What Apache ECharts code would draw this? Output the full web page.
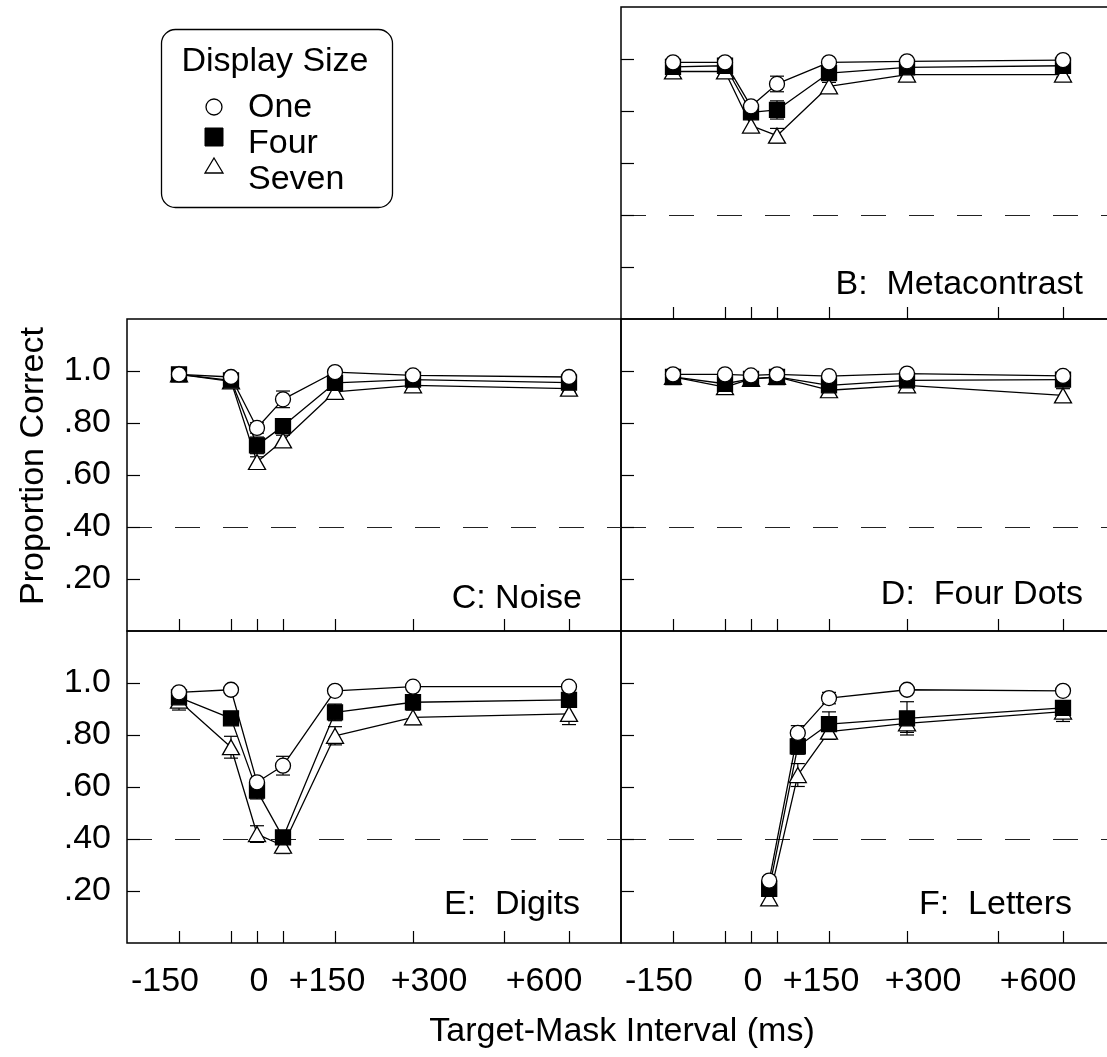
<!DOCTYPE html>
<html><head><meta charset="utf-8">
<script src="https://cdn.jsdelivr.net/npm/echarts@6/dist/echarts.min.js"></script>
<style>html,body{margin:0;padding:0;background:#fff}#c{width:1107px;height:1057px}</style>
</head><body><div id="c"></div>
<script>
// ---------- data ----------
const seriesNames = ['One', 'Four', 'Seven'];
const xMain = [-150, -50, 0, 50, 150, 300, 600];
const xLetters = [35, 90, 150, 300, 600];
const xTickValues = [-150, -50, 0, 50, 150, 300, 475, 600];
const xLabelValues = [-150, 0, 150, 300, 600];
const xLabelTexts = ['-150', '0', '+150', '+300', '+600'];
const yTickValues = [0.2, 0.4, 0.6, 0.8, 1.0];
const yLabelTexts = ['.20', '.40', '.60', '.80', '1.0'];
const chanceLevel = 0.4;
const panelTitles = ['B:  Metacontrast', 'C: Noise', 'D:  Four Dots', 'E:  Digits', 'F:  Letters'];

// B: Metacontrast
const bOne   = [0.987, 0.987, 0.818, 0.904, 0.987, 0.991, 0.996];
const bFour  = [0.970, 0.974, 0.795, 0.804, 0.946, 0.968, 0.974];
const bSeven = [0.952, 0.952, 0.744, 0.705, 0.895, 0.940, 0.940];
const bOneErr   = [0.008, 0.008, 0.015, 0.030, 0.008, 0.006, 0.006];
const bFourErr  = [0.010, 0.010, 0.015, 0.035, 0.012, 0.008, 0.008];
const bSevenErr = [0.010, 0.010, 0.026, 0.028, 0.015, 0.010, 0.010];
// C: Noise
const cOne   = [0.987, 0.977, 0.781, 0.891, 0.996, 0.983, 0.977];
const cFour  = [0.987, 0.964, 0.714, 0.788, 0.954, 0.967, 0.955];
const cSeven = [0.987, 0.960, 0.650, 0.733, 0.920, 0.945, 0.932];
const cOneErr   = [0.006, 0.008, 0.020, 0.032, 0.006, 0.006, 0.008];
const cFourErr  = [0.006, 0.010, 0.032, 0.020, 0.012, 0.010, 0.010];
const cSevenErr = [0.006, 0.010, 0.020, 0.020, 0.015, 0.012, 0.012];
// D: Four Dots
const dOne   = [0.987, 0.987, 0.983, 0.987, 0.980, 0.990, 0.981];
const dFour  = [0.977, 0.951, 0.970, 0.977, 0.945, 0.964, 0.967];
const dSeven = [0.977, 0.938, 0.970, 0.977, 0.926, 0.945, 0.906];
const dOneErr   = [0.005, 0.006, 0.006, 0.005, 0.006, 0.005, 0.006];
const dFourErr  = [0.006, 0.010, 0.008, 0.006, 0.012, 0.008, 0.010];
const dSevenErr = [0.006, 0.012, 0.008, 0.006, 0.026, 0.010, 0.026];
// E: Digits
const eOne   = [0.964, 0.974, 0.618, 0.682, 0.970, 0.986, 0.986];
const eFour  = [0.945, 0.864, 0.586, 0.406, 0.887, 0.926, 0.935];
const eSeven = [0.932, 0.753, 0.419, 0.374, 0.797, 0.868, 0.881];
const eOneErr   = [0.010, 0.008, 0.015, 0.036, 0.010, 0.008, 0.008];
const eFourErr  = [0.015, 0.020, 0.032, 0.020, 0.032, 0.020, 0.020];
const eSevenErr = [0.036, 0.042, 0.032, 0.030, 0.035, 0.028, 0.041];
// F: Letters
const fOne   = [0.240, 0.808, 0.942, 0.974, 0.970];
const fFour  = [0.208, 0.756, 0.842, 0.864, 0.904];
const fSeven = [0.172, 0.646, 0.813, 0.845, 0.890];
const fOneErr   = [0.015, 0.028, 0.022, 0.010, 0.010];
const fFourErr  = [0.020, 0.030, 0.047, 0.064, 0.020];
const fSevenErr = [0.026, 0.044, 0.030, 0.035, 0.038];

// ---------- layout ----------
const FONT = '"Liberation Sans", Arial, Helvetica, sans-serif';
const grids = [
  { left: 621, top: 7,   width: 494, height: 312 },  // B
  { left: 127, top: 319, width: 494, height: 312 },  // C
  { left: 621, top: 319, width: 494, height: 312 },  // D
  { left: 127, top: 631, width: 494, height: 312 },  // E
  { left: 621, top: 631, width: 494, height: 312 }   // F
];
const panels = [
  { x: xMain, vals: [bOne, bFour, bSeven], errs: [bOneErr, bFourErr, bSevenErr], yLab: false, xLab: false },
  { x: xMain, vals: [cOne, cFour, cSeven], errs: [cOneErr, cFourErr, cSevenErr], yLab: true, xLab: false },
  { x: xMain, vals: [dOne, dFour, dSeven], errs: [dOneErr, dFourErr, dSevenErr], yLab: false, xLab: false },
  { x: xMain, vals: [eOne, eFour, eSeven], errs: [eOneErr, eFourErr, eSevenErr], yLab: true, xLab: true },
  { x: xLetters, vals: [fOne, fFour, fSeven], errs: [fOneErr, fFourErr, fSevenErr], yLab: false, xLab: true }
];
const titlePos = [[1083, 285], [582, 599], [1083, 595], [580, 905], [1072, 905]];
// label nudges (px) so tick texts sit as in the original typesetting
const xLabelShift = [-14, 2, -8, 16, -25];
const rich = {};
xLabelShift.forEach((s, i) => {
  rich['l' + i] = { fontSize: 34, fontFamily: FONT, color: '#000',
    padding: s >= 0 ? [0, 0, 0, 2 * s] : [0, -2 * s, 0, 0] };
});

const symbolStyles = [
  { symbol: 'circle', size: 15, fill: '#fff' },
  { symbol: 'rect', size: 15, fill: '#000' },
  { symbol: 'triangle', size: [17, 15], fill: '#fff' }
];

const xAxes = [], yAxes = [], series = [];
panels.forEach((p, gi) => {
  xAxes.push({
    type: 'value', gridIndex: gi, min: -250, max: 700,
    axisLine: { show: false, onZero: false }, splitLine: { show: false },
    axisTick: { show: true, inside: true, length: 12, customValues: xTickValues, lineStyle: { color: '#000', width: 1.2 } },
    axisLabel: {
      show: p.xLab, customValues: xLabelValues, margin: 22, hideOverlap: false,
      fontSize: 34, fontFamily: FONT, color: '#000', rich: rich,
      formatter: v => { const i = xLabelValues.indexOf(v); return i >= 0 ? '{l' + i + '|' + xLabelTexts[i] + '}' : ''; }
    }
  });
  yAxes.push({
    type: 'value', gridIndex: gi, min: 0, max: 1.2,
    axisLine: { show: false, onZero: false }, splitLine: { show: false },
    axisTick: { show: true, inside: true, length: 13, customValues: yTickValues, lineStyle: { color: '#000', width: 1.2 } },
    axisLabel: {
      show: p.yLab, customValues: yTickValues, margin: 16,
      fontSize: 34, fontFamily: FONT, color: '#000',
      formatter: v => { const i = yTickValues.findIndex(t => Math.abs(t - v) < 1e-6); return i >= 0 ? yLabelTexts[i] : ''; }
    }
  });
  // error bars
  const errData = [];
  [2, 1, 0].forEach(si => {
    p.x.forEach((xv, k) => errData.push([xv, p.vals[si][k], p.errs[si][k]]));
  });
  series.push({
    type: 'custom', xAxisIndex: gi, yAxisIndex: gi, z: 1, silent: true,
    data: errData, encode: { x: 0, y: 1 },
    renderItem: (params, api) => {
      const xv = api.value(0), yv = api.value(1), e = api.value(2);
      if (!e) return;
      const t = api.coord([xv, yv + e]), b = api.coord([xv, yv - e]);
      const w = 7, st = { stroke: '#000', lineWidth: 1.2 };
      return { type: 'group', children: [
        { type: 'line', shape: { x1: t[0], y1: t[1], x2: b[0], y2: b[1] }, style: st },
        { type: 'line', shape: { x1: t[0] - w, y1: t[1], x2: t[0] + w, y2: t[1] }, style: st },
        { type: 'line', shape: { x1: b[0] - w, y1: b[1], x2: b[0] + w, y2: b[1] }, style: st }
      ]};
    }
  });
  [2, 1, 0].forEach(si => {
    const s = symbolStyles[si];
    const ser = {
      type: 'line', name: seriesNames[si], xAxisIndex: gi, yAxisIndex: gi, z: 3,
      data: p.x.map((xv, k) => [xv, p.vals[si][k]]),
      symbol: s.symbol, symbolSize: s.size, showAllSymbol: true,
      lineStyle: { color: '#000', width: 1.3 },
      itemStyle: { color: s.fill, borderColor: '#000', borderWidth: 1.3 },
      emphasis: { disabled: true }, silent: true
    };
    if (si === 2) {
      ser.markLine = {
        silent: true, symbol: 'none', label: { show: false }, z: 0,
        lineStyle: { color: '#222', type: [25, 23], width: 1.2 },
        data: [{ yAxis: chanceLevel }]
      };
    }
    series.push(ser);
  });
});

const graphics = [];
panelTitles.forEach((t, i) => {
  graphics.push({ type: 'text', x: titlePos[i][0], y: titlePos[i][1], z: 10,
    style: { text: t, font: '34px ' + FONT, fill: '#000', textAlign: 'right', textVerticalAlign: 'middle' } });
});
graphics.push({ type: 'text', x: 34, y: 466, rotation: Math.PI / 2, z: 10,
  style: { text: 'Proportion Correct', font: '34px ' + FONT, fill: '#000', textAlign: 'center', textVerticalAlign: 'middle' } });
graphics.push({ type: 'text', x: 622, y: 1032, z: 10,
  style: { text: 'Target-Mask Interval (ms)', font: '34px ' + FONT, fill: '#000', textAlign: 'center', textVerticalAlign: 'middle' } });
graphics.push({ type: 'rect', z: 10, shape: { x: 161.5, y: 29.5, width: 231, height: 178, r: 14 },
  style: { fill: '#fff', stroke: '#000', lineWidth: 1.3 } });
graphics.push({ type: 'text', x: 275, y: 62, z: 11,
  style: { text: 'Display Size', font: '34px ' + FONT, fill: '#000', textAlign: 'center', textVerticalAlign: 'middle' } });
const legendTextY = [108, 144, 180];
const legendSymY = [107, 137, 166];
seriesNames.forEach((n, i) => {
  graphics.push({ type: 'text', x: 248, y: legendTextY[i], z: 11,
    style: { text: n, font: '34px ' + FONT, fill: '#000', textAlign: 'left', textVerticalAlign: 'middle' } });
});
graphics.push({ type: 'circle', z: 11, shape: { cx: 214, cy: legendSymY[0], r: 8 }, style: { fill: '#fff', stroke: '#000', lineWidth: 1.3 } });
graphics.push({ type: 'rect', z: 11, shape: { x: 205, y: legendSymY[1] - 9, width: 18, height: 18 }, style: { fill: '#000', stroke: '#000', lineWidth: 1 } });
graphics.push({ type: 'polygon', z: 11, shape: { points: [[214, legendSymY[2] - 8], [223, legendSymY[2] + 7], [205, legendSymY[2] + 7]] }, style: { fill: '#fff', stroke: '#000', lineWidth: 1.3 } });

const option = {
  animation: false,
  backgroundColor: '#fff',
  grid: grids.map(g => Object.assign({ show: true, borderColor: '#000', borderWidth: 1.5, backgroundColor: 'transparent',
    containLabel: false, outerBoundsMode: 'none' }, g)),
  xAxis: xAxes, yAxis: yAxes, series: series, graphic: graphics
};
const chart = echarts.init(document.getElementById('c'), null, { renderer: 'canvas' });
chart.setOption(option);
</script></body></html>
